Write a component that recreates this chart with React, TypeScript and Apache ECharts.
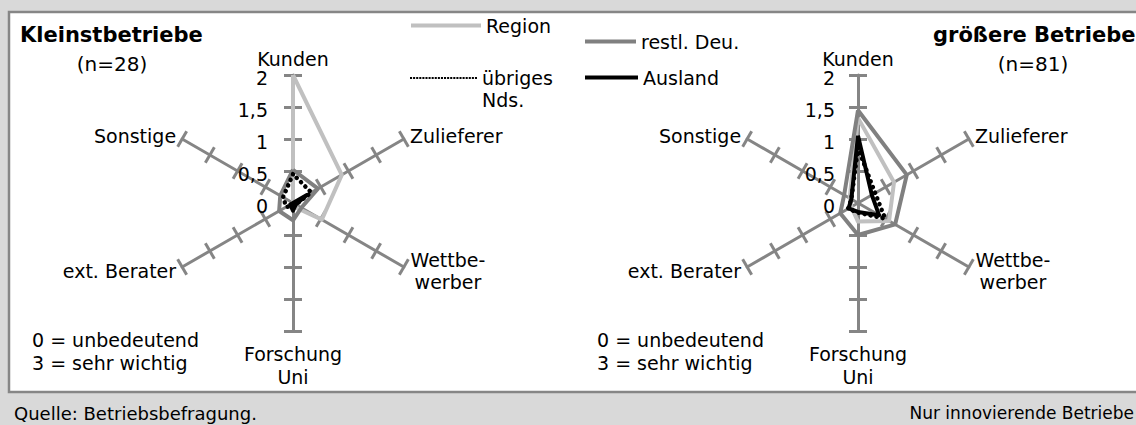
import React, { useEffect, useRef } from 'react';
import * as echarts from 'echarts';

// ---------- data ----------
const categories = ['Kunden', 'Zulieferer', 'Wettbewerber', 'Forschung Uni', 'ext. Berater', 'Sonstige'];
const seriesNames = ['Region', 'restl. Deu.', 'übriges Nds.', 'Ausland'];
const valueTicks = [0, 0.5, 1, 1.5, 2];

// Kleinstbetriebe (n=28), clockwise from Kunden
const smallRegion = [2, 0.88, 0.52, 0.05, 0, 0];
const smallRestDeu = [0.52, 0.45, 0.15, 0.27, 0.25, 0.23];
const smallUebrigesNds = [0.45, 0.33, 0.05, 0.05, 0.12, 0.18];
const smallAusland = [0, 0.25, 0.05, 0.12, 0.05, 0];

// größere Betriebe (n=81)
const largeRegion = [1.33, 0.65, 0.56, 0.29, 0.12, 0.15];
const largeRestDeu = [1.45, 0.88, 0.67, 0.5, 0.32, 0.25];
const largeUebrigesNds = [0.86, 0.31, 0.49, 0.15, 0.18, 0.12];
const largeAusland = [1.05, 0.25, 0.38, 0.14, 0.17, 0.12];

const panelTitles = ['Kleinstbetriebe', 'größere Betriebe'];
const panelCounts = ['(n=28)', '(n=81)'];
const scaleNote = ['0 = unbedeutend', '3 = sehr wichtig'];
const footerLeft = 'Quelle: Betriebsbefragung.';
const footerRight = 'Nur innovierende Betriebe';

// ---------- styles ----------
const FONT = 'DejaVu Sans';
const AXIS_GREY = '#858585';
const lineStyles: any[] = [
  { color: '#c0c0c0', width: 4, type: 'solid' },
  { color: '#808080', width: 4, type: 'solid' },
  { color: '#000000', width: 4.5, type: [0.1, 6], cap: 'round' },
  { color: '#000000', width: 4, type: 'solid' },
];

// ECharts radar runs counter-clockwise, reference is clockwise
const order = [0, 5, 4, 3, 2, 1];

const dottedIcon = 'path://' + Array.from({ length: 22 }, (_, i) => `M${i * 3},0h2v2h-2z`).join(' ');

export default function App() {
  const ref = useRef<HTMLDivElement>(null);

  useEffect(() => {
    if (!ref.current) return;
    const chart = echarts.init(ref.current, undefined, { renderer: 'svg' });

    const indicator = order.map((i) => ({ name: categories[i], min: valueTicks[0], max: valueTicks[valueTicks.length - 1] }));
    const tickValues = valueTicks.slice(1);
    const centers = [293, 858];
    const txt = { fontSize: 19, fontFamily: FONT, color: '#000' };

    const radars: any[] = [];
    centers.forEach((cx) => {
      const base = {
        center: [cx, 203],
        radius: 128,
        startAngle: 90,
        splitNumber: valueTicks.length - 1,
        shape: 'polygon',
        indicator,
        splitLine: { show: false },
        splitArea: { show: false },
        axisLabel: { show: false },
      };
      radars.push({
        ...base,
        nameGap: 7,
        axisLine: { show: true, lineStyle: { color: AXIS_GREY, width: 3 } },
        axisTick: { show: true, length: 9, customValues: tickValues, lineStyle: { color: AXIS_GREY, width: 3 } },
        axisName: {
          show: true,
          ...txt,
          lineHeight: 19,
          formatter: (name: string) =>
            name === 'Wettbewerber'
              ? '{w|Wettbe-}\n{w|werber}'
              : name === 'Forschung Uni'
              ? '{s| }\n{g|Forschung}\n{g|Uni}'
              : name,
          rich: {
            w: { ...txt, width: 76, align: 'center', lineHeight: 22 },
            s: { fontSize: 4, fontFamily: FONT, color: '#000', lineHeight: 4 },
            g: { ...txt, lineHeight: 23 },
          },
        },
      });
      radars.push({
        ...base,
        axisLine: { show: false },
        axisTick: { show: true, length: -9, customValues: tickValues, lineStyle: { color: AXIS_GREY, width: 3 } },
        axisName: { show: false },
      });
    });

    const makeSeries = (radarIndex: number, sets: number[][]) => ({
      type: 'radar',
      radarIndex,
      symbol: 'none',
      silent: true,
      z: 3,
      data: sets.map((vals, k) => ({
        name: seriesNames[k],
        value: order.map((i) => vals[i]),
        itemStyle: { color: lineStyles[k].color },
        lineStyle: lineStyles[k],
        areaStyle: { opacity: 0 },
      })),
    });

    const legendBase = {
      orient: 'horizontal',
      padding: 0,
      selectedMode: false,
      textStyle: { ...txt },
    };
    const legendItem = (k: number, icon: string) => ({
      name: seriesNames[k],
      icon,
      itemStyle: { color: lineStyles[k].color, borderWidth: 0 },
    });

    const valueAxis = (gridIndex: number) => ({
      gridIndex,
      type: 'value',
      min: valueTicks[0],
      max: valueTicks[valueTicks.length - 1],
      interval: valueTicks[1] - valueTicks[0],
      axisLine: { show: false },
      axisTick: { show: false },
      splitLine: { show: false },
      axisLabel: {
        margin: 2,
        ...txt,
        lineHeight: 14,
        formatter: (v: number) => String(v).replace('.', ','),
      },
    });

    const texts: any[] = [];
    const titleX = [20, 933];
    const countX = [112, 1033];
    const noteX = [32, 597];
    [0, 1].forEach((p) => {
      texts.push({
        type: 'text', x: titleX[p], y: 35,
        style: { text: panelTitles[p], fontSize: 21, fontWeight: 'bold', fontFamily: FONT, fill: '#000', verticalAlign: 'middle' },
      });
      texts.push({
        type: 'text', x: countX[p], y: 64,
        style: { text: panelCounts[p], fontSize: 20, fontFamily: FONT, fill: '#000', align: 'center', verticalAlign: 'middle' },
      });
      scaleNote.forEach((t, j) => {
        texts.push({
          type: 'text', x: noteX[p], y: 340 + j * 23,
          style: { text: t, fontSize: 19, fontFamily: FONT, fill: '#000', verticalAlign: 'middle' },
        });
      });
    });
    texts.push({
      type: 'text', x: 14, y: 413,
      style: { text: footerLeft, fontSize: 18, fontFamily: FONT, fill: '#000', verticalAlign: 'middle' },
    });
    texts.push({
      type: 'text', x: 1134, y: 413,
      style: { text: footerRight, fontSize: 17, fontFamily: FONT, fill: '#000', align: 'right', verticalAlign: 'middle' },
    });

    chart.setOption({
      animation: false,
      backgroundColor: '#d9d9d9',
      textStyle: { fontFamily: FONT },
      graphic: [
        {
          type: 'rect',
          z: -10,
          shape: { x: 9, y: 12, width: 1140, height: 380 },
          style: { fill: '#ffffff', stroke: '#868686', lineWidth: 2.5 },
        },
        ...texts,
      ],
      radar: radars,
      grid: [
        { left: 270, top: 78, width: 1, height: 128 },
        { left: 837, top: 78, width: 1, height: 128 },
      ],
      xAxis: [
        { gridIndex: 0, type: 'value', show: false },
        { gridIndex: 1, type: 'value', show: false },
      ],
      yAxis: [valueAxis(0), valueAxis(1)],
      legend: [
        { ...legendBase, left: 411, top: 16, itemWidth: 70, itemHeight: 4, data: [legendItem(0, 'rect')] },
        { ...legendBase, left: 585, top: 32, itemWidth: 51, itemHeight: 4, data: [legendItem(1, 'rect')] },
        {
          ...legendBase, left: 410, top: 45, itemWidth: 67, itemHeight: 3,
          data: [legendItem(2, dottedIcon)],
          formatter: () => '\nübriges\nNds.',
          textStyle: { ...txt, lineHeight: 22 },
        },
        { ...legendBase, left: 585, top: 68, itemWidth: 53, itemHeight: 4, data: [legendItem(3, 'rect')] },
      ],
      series: [
        makeSeries(0, [smallRegion, smallRestDeu, smallUebrigesNds, smallAusland]),
        makeSeries(2, [largeRegion, largeRestDeu, largeUebrigesNds, largeAusland]),
      ],
    });

    return () => chart.dispose();
  }, []);

  return (
    <div
      ref={ref}
      style={{ position: 'absolute', left: 0, top: 0, width: 1136, height: 425 }}
    />
  );
}
